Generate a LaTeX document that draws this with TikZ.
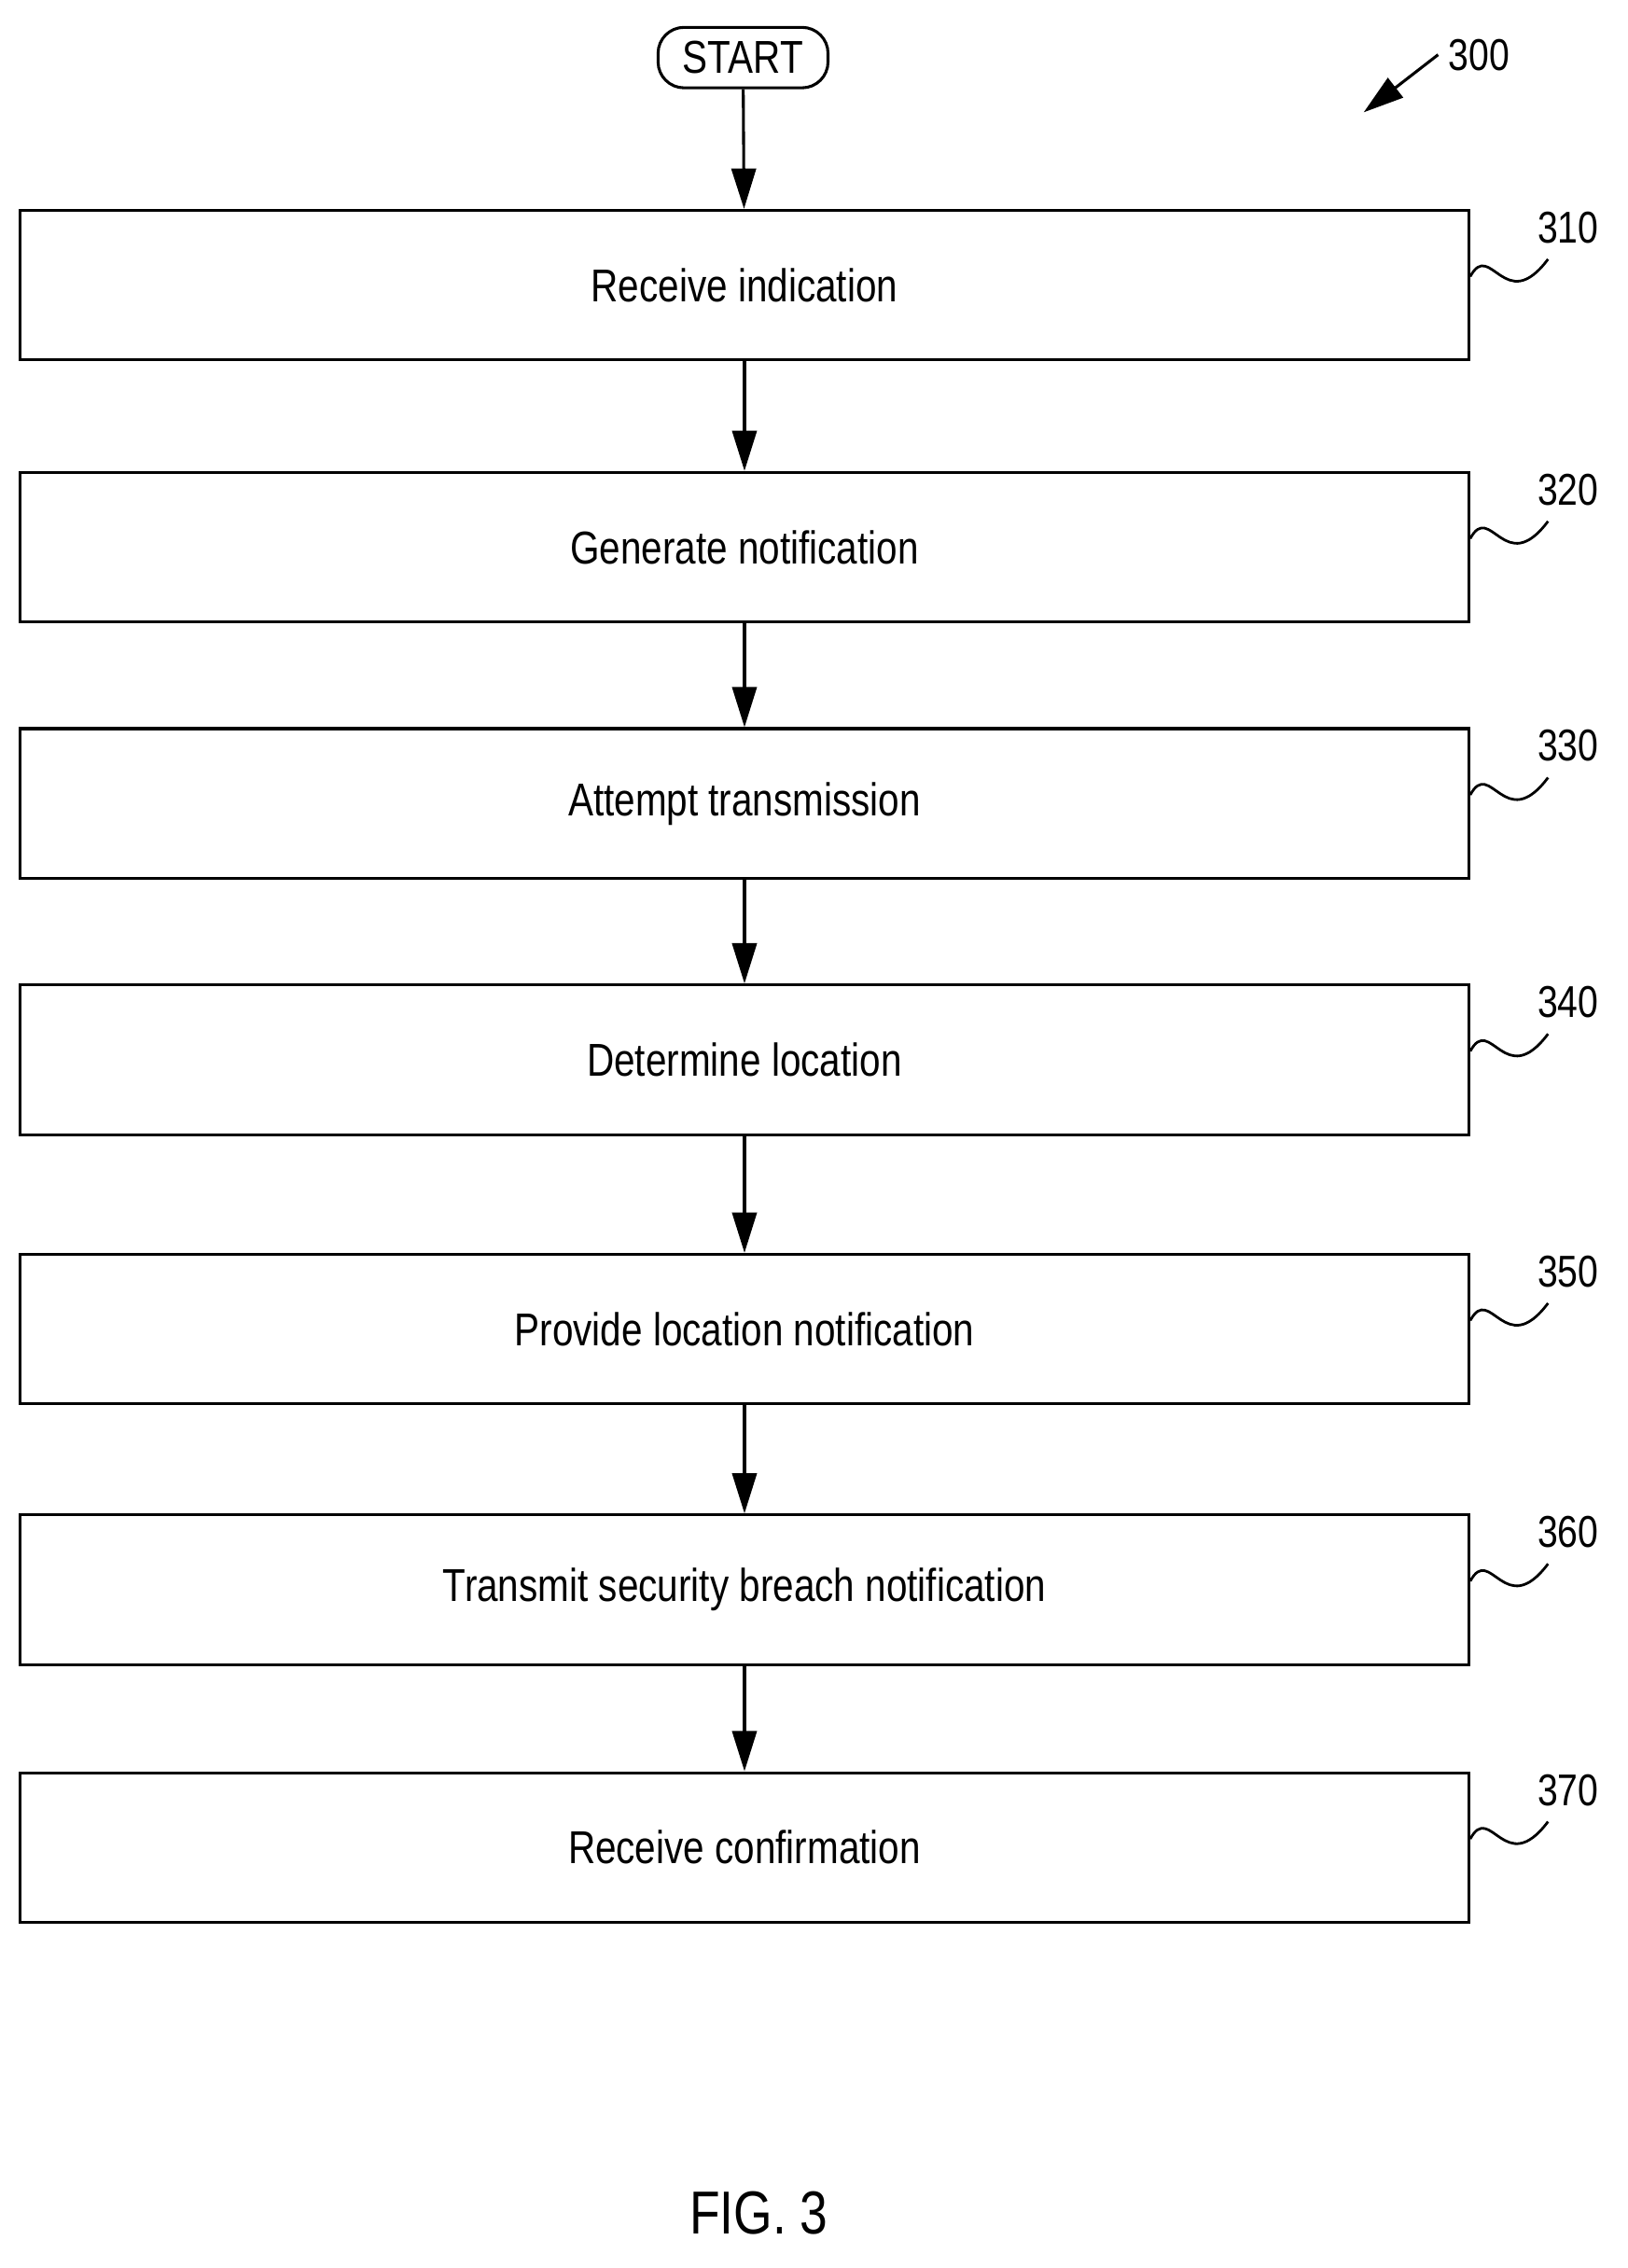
\documentclass[tikz,border=0pt]{standalone}
\usepackage{fontspec}
\setmainfont[FakeStretch=0.82]{Liberation Sans}
\usetikzlibrary{arrows.meta}

\begin{document}
\begin{tikzpicture}[x=1mm, y=-1mm, line width=2mm,
  stepbox/.style={draw, minimum width=1006mm, minimum height=104mm, inner sep=0pt,
               font=\fontsize{91}{104}\selectfont},
  numeral/.style={font=\fontsize{88}{100}\selectfont},
  flow/.style={-{Triangle[length=28mm, width=17mm]}}]
\useasboundingbox (0,0) rectangle (1130,1575);

\node[draw, rounded corners=18mm, minimum width=118mm, minimum height=42mm, inner sep=0pt,
      font=\fontsize{91}{104}\selectfont] (start) at (516,40) {START};

\foreach \name/\y/\txt/\num in {
  s310/198/Receive indication/310,
  s320/380/Generate notification/320,
  s330/558/Attempt transmission/330,
  s340/736/Determine location/340,
  s350/923/Provide location notification/350,
  s360/1104/Transmit security breach notification/360,
  s370/1283/Receive confirmation/370} {
  \node[stepbox] (\name) at (517,\y) {\txt};
  \coordinate (\name w) at (1075,\y-18);
  \node[numeral] (\name n) at (1089,\y-40) {\num};
  \draw[line width=1.8mm] (\name.east) ++(0,-6) .. controls (1035,\y-32) and (1045,\y+22) .. (\name w);
}

\draw[flow] (start) -- (s310);
\draw[flow] (s310) -- (s320);
\draw[flow] (s320) -- (s330);
\draw[flow] (s330) -- (s340);
\draw[flow] (s340) -- (s350);
\draw[flow] (s350) -- (s360);
\draw[flow] (s360) -- (s370);

\node[numeral] (fig) at (1027,38) {300};
\coordinate (figtip) at (947,78);
\draw[flow] (fig.west) ++(-5,0) -- (figtip);

\node[font=\fontsize{120}{136}\selectfont] (caption) at (527,1537) {FIG. 3};
\end{tikzpicture}
\end{document}
